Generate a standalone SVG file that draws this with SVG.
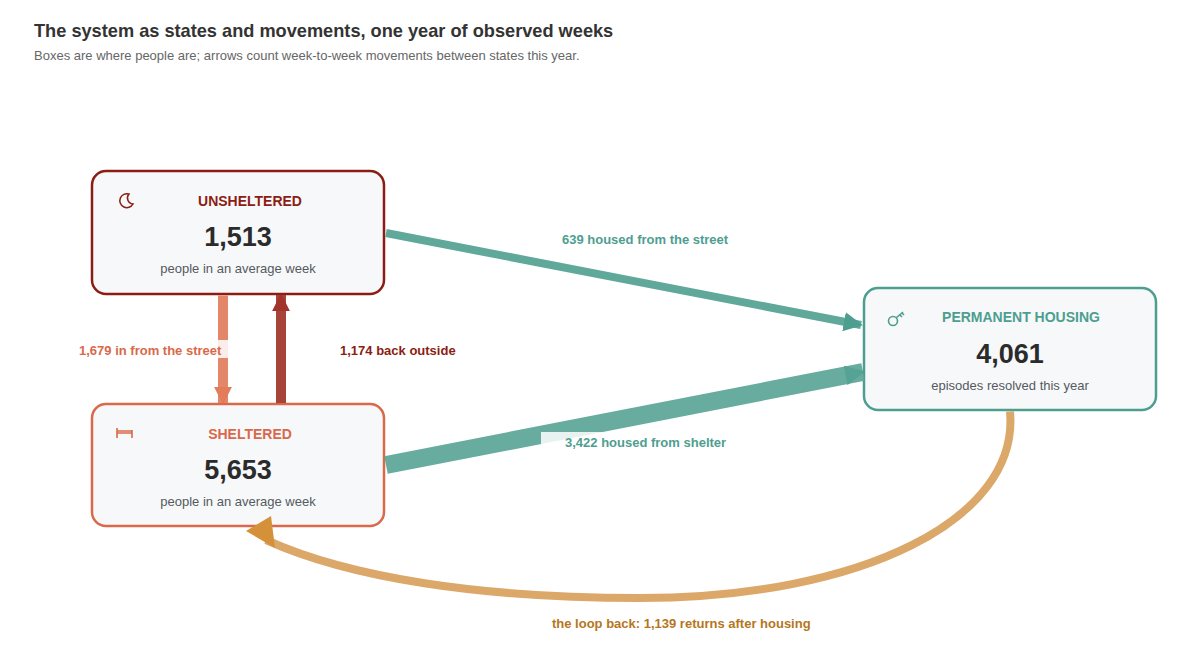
<svg xmlns="http://www.w3.org/2000/svg" width="1200" height="664" viewBox="0 0 1200 664">
<style>
text{font-family:"Liberation Sans",Arial,sans-serif}
.box{fill:#f7f8fa;stroke-width:2.5}
.num{font-size:27px;font-weight:bold;fill:#2b2b2b;text-anchor:middle}
.sub{font-size:13px;fill:#555a60;text-anchor:middle}
.ttl{font-size:14px;font-weight:bold;text-anchor:middle}
.lbl{font-size:13px;font-weight:bold}
.bg{fill:#fff;opacity:0.85}
</style>
<defs>
<marker id="mT" viewBox="0 0 10 10" refX="9" refY="5" markerWidth="2.4" markerHeight="2.4" orient="auto" markerUnits="strokeWidth"><path d="M0,0L10,5L0,10z" fill="#4e9e90"/></marker>
<marker id="mT2" viewBox="0 0 10 10" refX="9" refY="5" markerWidth="1.1" markerHeight="1.1" orient="auto" markerUnits="strokeWidth"><path d="M0,0L10,5L0,10z" fill="#4e9e90"/></marker>
<marker id="mO" viewBox="0 0 10 10" refX="9" refY="5" markerWidth="1.8" markerHeight="1.8" orient="auto" markerUnits="strokeWidth"><path d="M0,0L10,5L0,10z" fill="#e06e48"/></marker>
<marker id="mR" viewBox="0 0 10 10" refX="9" refY="5" markerWidth="1.8" markerHeight="1.8" orient="auto" markerUnits="strokeWidth"><path d="M0,0L10,5L0,10z" fill="#9e2a20"/></marker>
</defs>
<text x="34" y="37" font-size="18.2" font-weight="bold" fill="#333">The system as states and movements, one year of observed weeks</text>
<text x="34" y="60" font-size="13" fill="#666">Boxes are where people are; arrows count week-to-week movements between states this year.</text>
<g id="unsheltered">
<rect class="box" x="92" y="171" width="292" height="123" rx="14" stroke="#8c1d14"/>
<path d="M129,194 a7,7 0 1 0 4,10 a6,6 0 0 1 -4,-10z" fill="none" stroke="#8c1d14" stroke-width="1.5"/>
<text class="ttl" x="250" y="206" fill="#8c1d14">UNSHELTERED</text>
<text class="num" x="238" y="246">1,513</text>
<text class="sub" x="238" y="273">people in an average week</text>
</g>
<g id="sheltered">
<rect class="box" x="92" y="404" width="292" height="122" rx="14" stroke="#d9694a"/>
<path d="M117,428 v10 M117,433 h15 M132,430 v8 M117,431 h15" fill="none" stroke="#d9694a" stroke-width="1.6"/>
<text class="ttl" x="250" y="439" fill="#d9694a">SHELTERED</text>
<text class="num" x="238" y="479">5,653</text>
<text class="sub" x="238" y="506">people in an average week</text>
</g>
<g id="permanent-housing">
<rect class="box" x="864" y="288" width="292" height="122" rx="14" stroke="#4e9e90"/>
<circle cx="893" cy="321" r="4.5" fill="none" stroke="#4e9e90" stroke-width="1.6"/>
<path d="M896,318 l7,-6 M900,315 l2,2 M902,313 l2,2" fill="none" stroke="#4e9e90" stroke-width="1.6"/>
<text class="ttl" x="1021" y="322" fill="#4e9e90">PERMANENT HOUSING</text>
<text class="num" x="1010" y="363">4,061</text>
<text class="sub" x="1010" y="390">episodes resolved this year</text>
</g>
<g id="connectors">
<line x1="386" y1="233" x2="861" y2="325" stroke="#5fa89a" stroke-width="8" marker-end="url(#mT)"/>
<line x1="386" y1="465" x2="863" y2="372" stroke="#5fa89a" stroke-width="18" marker-end="url(#mT2)" opacity="0.95"/>
<line x1="223" y1="295.5" x2="223" y2="403" stroke="#e07b5a" stroke-width="10" marker-end="url(#mO)" opacity="0.9"/>
<line x1="281" y1="403" x2="281" y2="295" stroke="#a33a2f" stroke-width="10" marker-end="url(#mR)" opacity="0.95"/>
<path d="M1010,411.5 C1020,520 860,598 640,598 C480,598 350,578 266,540" fill="none" stroke="#dba86a" stroke-width="8"/>
<polygon points="246,531 271,516 275,548" fill="#d4913a"/>
<rect class="bg" x="76" y="340" width="152" height="18"/>
<text class="lbl" x="79" y="355" fill="#d9694a">1,679 in from the street</text>
<text class="lbl" x="340" y="355" fill="#8c1d14">1,174 back outside</text>
<text class="lbl" x="562" y="244" fill="#4e9e90">639 housed from the street</text>
<rect class="bg" x="541" y="432" width="190" height="18"/>
<text class="lbl" x="565" y="447" fill="#4e9e90">3,422 housed from shelter</text>
<text class="lbl" x="552" y="628" fill="#b5761d">the loop back: 1,139 returns after housing</text>
</g>
</svg>
